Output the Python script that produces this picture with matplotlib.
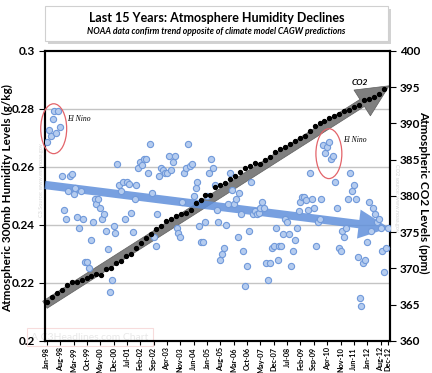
import numpy as np
import matplotlib.pyplot as plt
from matplotlib.patches import Ellipse, Rectangle

plt.rcParams['font.family'] = ['Lato', 'DejaVu Sans']

# monthly 300mb humidity (g/kg), Jan-98 .. Dec-12
humidity = [
    0.2687, 0.2728, 0.2708, 0.2766, 0.2793, 0.2718, 0.2793, 0.2737,
    0.2568, 0.2451, 0.2420, 0.2517, 0.2568, 0.2577, 0.2508, 0.2529,
    0.2428, 0.2391, 0.2518, 0.2420, 0.2271, 0.2271, 0.2251, 0.2349,
    0.2409, 0.2489, 0.2471, 0.2489, 0.2458, 0.2420, 0.2439, 0.2379,
    0.2318, 0.2170, 0.2210, 0.2398, 0.2371, 0.2609, 0.2538, 0.2517,
    0.2547, 0.2420, 0.2547, 0.2540, 0.2440, 0.2377,
    0.2489, 0.2538, 0.2598, 0.2618, 0.2607, 0.2628, 0.2628, 0.2578,
    0.2678, 0.2509, 0.2360, 0.2329, 0.2439, 0.2568, 0.2598, 0.2590,
    0.2578, 0.2578, 0.2638, 0.2590, 0.2618, 0.2638, 0.2389, 0.2371,
    0.2360, 0.2478, 0.2578, 0.2598, 0.2678, 0.2605, 0.2609, 0.2499,
    0.2529, 0.2547, 0.2398, 0.2342, 0.2342, 0.2411, 0.2499, 0.2578,
    0.2628, 0.2598, 0.2538,
    0.2452, 0.2409, 0.2279, 0.2299, 0.2320, 0.2400, 0.2471, 0.2578,
    0.2521, 0.2471, 0.2490, 0.2360, 0.2509, 0.2439, 0.2310, 0.2190,
    0.2259, 0.2379, 0.2547, 0.2439, 0.2448, 0.2439, 0.2440, 0.2458,
    0.2478, 0.2458, 0.2270, 0.2210, 0.2270, 0.2320, 0.2329, 0.2389,
    0.2279, 0.2329, 0.2329, 0.2370, 0.2421, 0.2409, 0.2370, 0.2259,
    0.2310, 0.2348, 0.2389, 0.2448, 0.2480, 0.2498,
    0.2498, 0.2486, 0.2450, 0.2578, 0.2489, 0.2458, 0.2329, 0.2409,
    0.2421, 0.2489, 0.2676, 0.2649, 0.2668, 0.2687, 0.2627, 0.2639,
    0.2547, 0.2458, 0.2320, 0.2310, 0.2379, 0.2360, 0.2389, 0.2489,
    0.2578, 0.2517, 0.2538, 0.2489, 0.2289, 0.2149, 0.2121, 0.2270,
    0.2279, 0.2340, 0.2478, 0.2379, 0.2458, 0.2439, 0.2410, 0.2421,
    0.2389, 0.2310, 0.2239, 0.2320, 0.2389,
]

# CO2 (ppm), sampled about every 2.6 months over the same span
co2 = [
    365.4, 366.1, 366.6, 367.1, 367.7, 368.2, 368.1, 368.4, 368.75, 368.9,
    369.2, 369.1, 369.9, 370.1, 370.7, 371.1, 371.7, 372.0, 372.8, 373.5,
    374.2, 374.7, 375.4, 375.8, 376.5, 376.8, 377.2, 377.5, 377.7, 378.1,
    379.1, 379.5, 380.1, 380.2, 381.2, 381.5, 381.8, 382.3, 382.8, 383.3,
    383.8, 384.1, 384.6, 384.4, 384.9, 385.4, 386.1, 386.5, 386.7,
    387.2, 387.6, 388.0, 388.3, 389.0, 389.7, 390.0, 390.4, 390.7, 391.0,
    391.3, 391.7, 391.9, 392.3, 392.5, 393.2, 393.4, 393.7, 394.1, 394.7,
]
co2_step = 2.6

month_labels = ['Jan-98', 'Aug-98', 'Mar-99', 'Oct-99', 'May-00', 'Dec-00',
                'Jul-01', 'Feb-02', 'Sep-02', 'Apr-03', 'Nov-03', 'Jun-04',
                'Jan-05', 'Aug-05', 'Mar-06', 'Oct-06', 'May-07', 'Dec-07',
                'Jul-08', 'Feb-09', 'Sep-09', 'Apr-10', 'Nov-10', 'Jun-11',
                'Jan-12', 'Aug-12', 'Dec-12']
label_months = list(range(0, 176, 7)) + [179]

hum_ticks = [0.2, 0.22, 0.24, 0.26, 0.28, 0.3]
hum_tick_labels = ['0.2', '0.22', '0.24', '0.26', '0.28', '0.3']
co2_ticks = list(range(360, 401, 5))

# hand drawn trend arrows (start, end)
hum_trend = [0.2538, 0.2390]
co2_trend = [365.0, 395.2]

months = np.arange(len(humidity))
co2_x = np.arange(len(co2)) * co2_step

fig = plt.figure(figsize=(4.32, 3.73), dpi=100)
fig.patch.set_facecolor('white')
ax = fig.add_axes([0.104, 0.0858, 0.799, 0.7775])
ax.patch.set_visible(False)
ax2 = ax.twinx()

# grid lines
for y in hum_ticks[1:-1]:
    ax.axhline(y, color='#c4c4c4', lw=1, zorder=0)

# gray CO2 arrow
ax2.annotate('', xy=(179.5, co2_trend[1]), xytext=(-1, co2_trend[0]),
             arrowprops=dict(arrowstyle='simple,head_length=2.3,head_width=2.2,tail_width=0.6',
                             mutation_scale=10, fc='#7f7f7f', ec='#5f5f5f', lw=0.5,
                             shrinkA=0, shrinkB=0),
             annotation_clip=False, zorder=2)
# blue humidity arrow
ax2.annotate('', xy=(179.5, hum_trend[1]), xycoords=ax.transData,
             xytext=(-1, hum_trend[0]), textcoords=ax.transData,
             arrowprops=dict(arrowstyle='simple,head_length=2.2,head_width=2.1,tail_width=0.6',
                             mutation_scale=10, fc='#6090db', ec='none', alpha=0.85,
                             shrinkA=0, shrinkB=0),
             annotation_clip=False, zorder=3)

ax2.scatter(months, humidity, transform=ax.transData, s=20, fc='#b5ccef',
            ec='#7099da', lw=0.8, zorder=4)
ax2.scatter(co2_x, co2, s=8, c='black', zorder=5)

# El Nino call-outs
for cx, cy, tx, ty in [(3.6, 0.2732, 10.4, 0.2765), (147.9, 0.2646, 155.2, 0.2693)]:
    ax2.add_patch(Ellipse((cx, cy), 13.6, 0.0172, transform=ax.transData, fill=False,
                          ec='#e3646a', lw=0.9, clip_on=False, zorder=6))
    ax2.text(tx, ty, 'El Nino', transform=ax.transData, family='Liberation Serif',
             style='italic', fontsize=5.5, va='center', zorder=6)
ax2.text(164.3, 395.6, 'CO2', fontsize=6, fontweight='bold', style='italic',
         ha='center', va='center', zorder=6)

# axes
ax.set_xlim(-1, 180)
ax.set_ylim(0.2, 0.3)
ax2.set_ylim(360, 400)
ax.set_xticks(label_months)
ax.set_xticklabels(month_labels, rotation=90, fontsize=5.2, fontweight='bold')
ax.set_yticks(hum_ticks)
ax.set_yticklabels(hum_tick_labels, fontsize=8.5, fontweight='bold')
ax2.set_yticks(co2_ticks)
ax2.set_yticklabels([str(t) for t in co2_ticks], fontsize=8.5, fontweight='bold')
ax.tick_params(axis='x', length=3, width=0.8, pad=1.5)
ax.tick_params(axis='y', length=4, width=0.8, pad=3)
ax2.tick_params(axis='y', length=4, width=0.8, pad=3)
for a in (ax, ax2):
    for s in a.spines.values():
        s.set_linewidth(1.5)
        s.set_color('black')

fig.text(8 / 432, 1 - 198 / 373, 'Atmospheric 300mb Humidity Levels (g/kg)', rotation=90,
         ha='center', va='center', fontsize=8.5, fontweight='bold')
fig.text(424 / 432, 1 - 192 / 373, 'Atmospheric CO2 Levels (ppm)', rotation=270,
         ha='center', va='center', fontsize=8.5, fontweight='bold')

# faint source notes / watermark
fig.text(42 / 432, 1 - 180 / 373, 'C3 Source: www.esrl.noaa.gov', rotation=90, ha='center',
         va='center', fontsize=4, color='#d6d6d6')
fig.text(396 / 432, 1 - 198 / 373, 'CO2 source: www.noaa.gov', rotation=270, ha='center',
         va='center', fontsize=4, color='#d6d6d6')
fig.text(0.208, 1 - 337 / 373, 'A C3Headlines.com Chart', fontsize=7.5, color='#e8e8e8',
         ha='center', va='center', zorder=-1,
         bbox=dict(fc='none', ec='#f7dcdc', lw=0.8, boxstyle='square,pad=0.4'))

# title box with shadow
fig.add_artist(Rectangle((0.110, 0.882), 0.794, 0.094, transform=fig.transFigure,
                         fc='#b5b5b5', ec='none', alpha=0.6))
fig.add_artist(Rectangle((0.104, 0.890), 0.794, 0.094, transform=fig.transFigure,
                         fc='white', ec='#d0d0d0', lw=0.8))
fig.text(0.501, 1 - 18 / 373, 'Last 15 Years: Atmosphere Humidity Declines',
         ha='center', va='center', fontsize=9, fontweight='bold')
fig.text(0.501, 1 - 32 / 373, 'NOAA data confirm trend opposite of climate model CAGW predictions',
         ha='center', va='center', fontsize=6.2, fontweight='bold', style='italic')

fig.savefig('out.png', dpi=100)
